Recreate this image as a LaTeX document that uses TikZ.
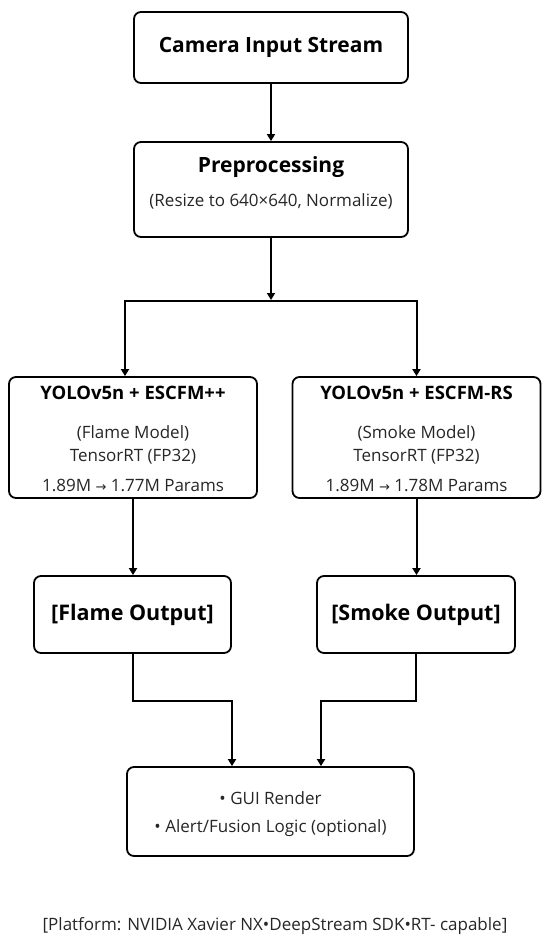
\documentclass[tikz,border=0pt]{standalone}
\usepackage{fontspec}
\setmainfont{Open Sans}
\newfontfamily\arrowfont{DejaVu Sans}
\usetikzlibrary{arrows.meta}

\tikzset{
  box/.style={draw, line width=1.8pt, rounded corners=7pt, inner sep=0pt},
  flow/.style={line width=2pt, -{Triangle[width=8pt,length=7pt]}},
  topttl/.style={font=\fontsize{21}{24}\selectfont\bfseries},
  ttl/.style={font=\fontsize{18.5}{21}\selectfont\bfseries},
  bigttl/.style={font=\fontsize{21.5}{24}\selectfont\bfseries},
  sub/.style={font=\fontsize{17}{20}\selectfont, text=black!85},
}

\begin{document}
\begin{tikzpicture}[x=1pt, y=-1pt]
\useasboundingbox (0,0) rectangle (550,950);
% input and preprocessing
\node[box, topttl, minimum width=274pt, minimum height=71pt] (cam) at (271,47.5) {Camera Input Stream};
\node[box, minimum width=274pt, minimum height=95pt] (pre) at (271,189.5) {};
\node[topttl] (pre-head) at (271,167) {Preprocessing};
\node[sub] (pre-sub) at (271,201) {(Resize to 640×640, Normalize)};
% the two detector branches
\foreach \cx/\id/\head/\kind/\pnum in {133/flame/YOLOv5n + ESCFM++/Flame/1.77,
                                      416.5/smoke/YOLOv5n + ESCFM-RS/Smoke/1.78} {
  \node[box, minimum width=248pt, minimum height=121pt] (\id) at (\cx,437.5) {};
  \node[ttl] (\id-head) at (\cx,393) {\head};
  \node[sub] (\id-model) at (\cx,433) {(\kind{} Model)};
  \node[sub] (\id-rt) at (\cx,457) {TensorRT (FP32)};
  \node[sub] (\id-par) at (\cx,485) {1.89M {\arrowfont\fontsize{13}{13}\selectfont →} \pnum M Params};
}
\node[box, bigttl, minimum width=197pt, minimum height=77pt] (flameout) at (132.5,614.5) {[Flame Output]};
\node[box, bigttl, minimum width=198pt, minimum height=77pt] (smokeout) at (416,614.5) {[Smoke Output]};
% render / fusion
\node[box, minimum width=287pt, minimum height=89pt] (final) at (270.5,811.5) {};
\node[sub] (final-gui) at (270.5,798) {• GUI Render};
\node[sub] (final-alert) at (270.5,828) {• Alert/Fusion Logic (optional)};
\node[sub] (platform) at (275,926) {[Platform: NVIDIA Xavier NX•DeepStream SDK•RT- capable]};
% connectors
\coordinate (split) at (271,301);
\coordinate (mergeL) at (232,701);
\coordinate (mergeR) at (321,701);
\draw[flow] (cam) -- (pre);
\draw[flow] (pre.south) -- ([yshift=1pt]split);
\draw[flow] (split) -| ([xshift=-8pt]flame.north);
\draw[flow] (split) -| (smoke.north);
\draw[flow] (flame.south) -- (flame.south |- flameout.north);
\draw[flow] (smoke.south) -- (smoke.south |- smokeout.north);
\draw[flow] (flameout.south) |- (mergeL) -- (mergeL |- final.north);
\draw[flow] (smokeout.south) |- (mergeR) -- (mergeR |- final.north);
\end{tikzpicture}
\end{document}
